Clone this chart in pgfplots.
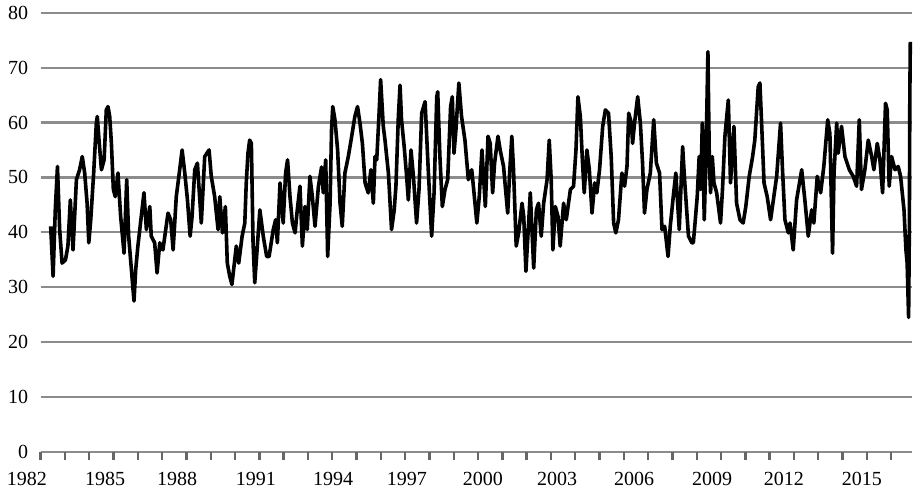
\documentclass[border=0pt]{standalone}
\usepackage{fontspec}
\setmainfont{Liberation Serif}
\usepackage{pgfplots}
\pgfplotsset{compat=1.18}
\definecolor{gridgray}{RGB}{140,140,140}

% monthly index
\pgfplotstableread{
yr val
1982.41 41.1
1982.51 32.0
1982.60 44.1
1982.69 52.0
1982.78 40.5
1982.88 34.4
1983.02 35.0
1983.12 37.5
1983.22 45.9
1983.33 36.8
1983.47 49.6
1983.60 51.4
1983.71 53.8
1983.81 50.8
1983.91 45.3
1983.98 38.1
1984.06 42.3
1984.18 50.8
1984.29 59.9
1984.33 61.1
1984.40 56.8
1984.50 51.4
1984.61 53.2
1984.70 62.3
1984.77 62.9
1984.84 61.1
1984.91 56.2
1984.99 47.8
1985.07 46.5
1985.18 50.8
1985.29 42.9
1985.43 36.2
1985.54 49.6
1985.62 39.3
1985.80 29.6
1985.84 27.5
1985.91 33.2
1986.00 37.5
1986.25 47.2
1986.35 40.5
1986.49 44.7
1986.55 39.3
1986.69 38.1
1986.79 32.6
1986.90 38.1
1987.03 36.8
1987.24 43.5
1987.35 42.3
1987.45 36.8
1987.58 46.5
1987.72 51.4
1987.82 55.0
1987.93 50.8
1988.04 45.9
1988.15 39.3
1988.23 42.9
1988.34 51.4
1988.45 52.6
1988.61 41.7
1988.75 53.8
1988.93 55.0
1989.02 50.2
1989.16 46.5
1989.30 40.5
1989.37 46.5
1989.48 39.9
1989.60 44.7
1989.68 34.4
1989.78 32.0
1989.87 30.5
1990.05 37.5
1990.15 34.4
1990.29 39.3
1990.40 41.7
1990.46 49.0
1990.53 54.4
1990.60 56.8
1990.67 56.2
1990.74 38.1
1990.81 30.8
1991.02 44.1
1991.16 39.3
1991.30 35.6
1991.40 35.6
1991.57 40.5
1991.67 42.3
1991.74 38.1
1991.85 49.0
1991.92 45.3
1991.98 41.7
1992.08 50.8
1992.16 53.2
1992.26 46.5
1992.36 41.7
1992.47 39.9
1992.56 44.1
1992.67 48.4
1992.77 37.5
1992.88 44.7
1992.97 40.5
1993.08 50.2
1993.18 46.5
1993.29 41.1
1993.43 48.4
1993.56 51.9
1993.63 47.2
1993.73 53.2
1993.81 35.6
1993.91 45.3
1993.97 58.7
1994.02 62.9
1994.11 60.5
1994.22 55.0
1994.32 45.3
1994.41 41.1
1994.52 50.8
1994.66 53.8
1994.80 57.5
1994.93 61.1
1995.04 62.9
1995.14 59.9
1995.24 56.2
1995.35 49.0
1995.48 47.2
1995.59 51.4
1995.69 45.3
1995.76 53.8
1995.83 53.2
1995.92 61.1
1995.99 67.8
1996.10 59.3
1996.17 56.8
1996.31 50.8
1996.44 40.5
1996.55 44.1
1996.62 48.4
1996.72 61.1
1996.79 66.8
1996.85 60.5
1996.96 55.6
1997.06 50.2
1997.13 45.9
1997.24 55.0
1997.34 50.2
1997.47 41.7
1997.57 47.8
1997.68 61.7
1997.82 63.8
1997.95 51.4
1998.09 39.3
1998.19 47.2
1998.30 64.7
1998.34 65.6
1998.43 53.8
1998.53 44.7
1998.64 47.8
1998.75 49.6
1998.87 62.9
1998.94 64.7
1999.01 54.4
1999.09 58.7
1999.21 67.2
1999.32 61.1
1999.46 56.8
1999.60 49.6
1999.74 51.4
1999.82 47.8
1999.95 41.7
2000.05 46.5
2000.16 55.0
2000.30 44.7
2000.41 57.5
2000.50 56.2
2000.60 47.2
2000.68 52.6
2000.82 57.5
2000.91 55.0
2001.05 52.0
2001.12 48.4
2001.22 43.5
2001.30 50.8
2001.39 57.5
2001.46 51.4
2001.57 37.5
2001.67 39.9
2001.81 45.3
2001.88 42.9
2001.97 32.9
2002.15 47.2
2002.29 33.5
2002.40 44.1
2002.49 45.3
2002.60 39.3
2002.70 45.3
2002.84 49.6
2002.93 56.8
2003.01 49.6
2003.08 36.8
2003.18 44.7
2003.29 42.9
2003.38 37.5
2003.52 45.3
2003.63 42.3
2003.80 47.8
2003.93 48.4
2004.03 55.0
2004.11 64.7
2004.21 61.1
2004.30 52.6
2004.37 47.2
2004.48 55.0
2004.58 51.4
2004.69 43.5
2004.80 49.0
2004.89 47.2
2005.00 51.4
2005.13 59.3
2005.24 62.3
2005.37 61.7
2005.48 53.8
2005.58 41.7
2005.67 39.9
2005.78 42.3
2005.92 50.8
2006.03 48.4
2006.13 52.0
2006.20 61.7
2006.31 59.9
2006.36 56.2
2006.44 59.9
2006.57 64.7
2006.68 59.9
2006.77 52.6
2006.85 43.5
2006.95 47.8
2007.09 50.8
2007.23 60.5
2007.34 52.6
2007.47 50.8
2007.57 40.5
2007.68 41.1
2007.82 35.6
2007.91 41.1
2008.05 47.2
2008.14 50.8
2008.28 40.5
2008.42 55.6
2008.50 49.6
2008.66 39.3
2008.80 38.1
2008.86 38.1
2008.93 41.7
2009.02 46.5
2009.10 53.8
2009.16 47.8
2009.23 59.9
2009.31 42.3
2009.38 53.8
2009.46 72.9
2009.52 52.6
2009.57 47.2
2009.64 53.8
2009.71 49.0
2009.82 47.2
2009.98 41.7
2010.06 47.8
2010.16 57.5
2010.30 64.1
2010.39 49.0
2010.53 59.3
2010.64 45.3
2010.78 42.3
2010.91 41.7
2011.02 44.7
2011.16 50.2
2011.30 53.8
2011.39 56.8
2011.53 66.5
2011.60 67.2
2011.67 59.9
2011.77 49.0
2011.90 46.5
2012.04 42.3
2012.29 50.2
2012.45 59.9
2012.53 51.4
2012.63 42.3
2012.77 39.9
2012.84 41.7
2012.97 36.8
2013.11 45.9
2013.32 51.4
2013.45 45.9
2013.59 39.3
2013.73 44.1
2013.82 41.7
2013.96 50.2
2014.10 47.2
2014.23 52.0
2014.39 60.5
2014.48 58.0
2014.59 36.2
2014.65 50.8
2014.76 59.9
2014.82 54.4
2014.96 59.3
2015.10 53.8
2015.28 51.4
2015.44 50.2
2015.58 48.4
2015.69 60.5
2015.78 47.8
2015.92 51.4
2016.06 56.8
2016.20 53.8
2016.29 51.4
2016.43 56.2
2016.54 53.2
2016.65 47.2
2016.77 63.5
2016.84 62.3
2016.92 48.4
2017.02 53.8
2017.16 51.4
2017.29 52.0
2017.39 50.2
2017.53 44.1
2017.61 36.8
2017.66 34.4
2017.72 24.5
2017.75 40.5
2017.77 64.7
2017.79 74.7
}\series

\begin{document}
\begin{tikzpicture}
\path[use as bounding box] (-40.7pt,-40pt) rectangle (874.3pt,452pt);
\begin{axis}[
  at={(0pt,0pt)}, anchor=south west,
  scale only axis,
  width=871.3pt, height=439.3pt,
  xmin=1982, xmax=2017.86,
  ymin=0, ymax=80,
  axis line style={draw=none},
  xtick pos=bottom, ytick pos=left,
  ytick={0,10,...,80},
  ymajorgrids,
  grid style={draw=gridgray, line width=2.2pt},
  major grid style={draw=gridgray, line width=2.2pt},
  % year labels sit a little off the yearly tick marks
  xtick={1984.65,1987.61,1990.86,1994.03,1997.07,2000.20,2003.25,2006.42,2009.63,2012.59,2015.80},
  xticklabels={1985,1988,1991,1994,1997,2000,2003,2006,2009,2012,2015},
  extra x ticks={1982},
  extra x tick labels={1982},
  extra x tick style={grid=none, xticklabel style={xshift=-13.7pt}},
  tick align=outside,
  major tick length=0pt,
  tick label style={font=\fontsize{20}{24}\selectfont},
  xticklabel style={yshift=-17pt},
  yticklabel style={xshift=-9pt},
  /pgf/number format/assume math mode=true,
  clip=false,
]
\addplot[black, line width=3.6pt, line join=round, mark=none] table[x=yr, y=val] {\series};
\end{axis}
% strip just under the plot area, drawn last: its x grid gives the yearly tick marks
\begin{axis}[
  at={(0pt,-8pt)}, anchor=south west,
  scale only axis,
  width=871.3pt, height=8pt,
  xmin=1982, xmax=2017.86,
  ymin=0, ymax=1,
  axis line style={draw=none},
  xtick={1982,1983,...,2017},
  xticklabels={},
  ytick=\empty,
  major tick length=0pt,
  xmajorgrids,
  axis on top,
  clip=false,
  grid style={draw=black!60, line width=2.4pt},
  major grid style={draw=black!60, line width=2.4pt},
]
\end{axis}
\end{tikzpicture}
\end{document}
